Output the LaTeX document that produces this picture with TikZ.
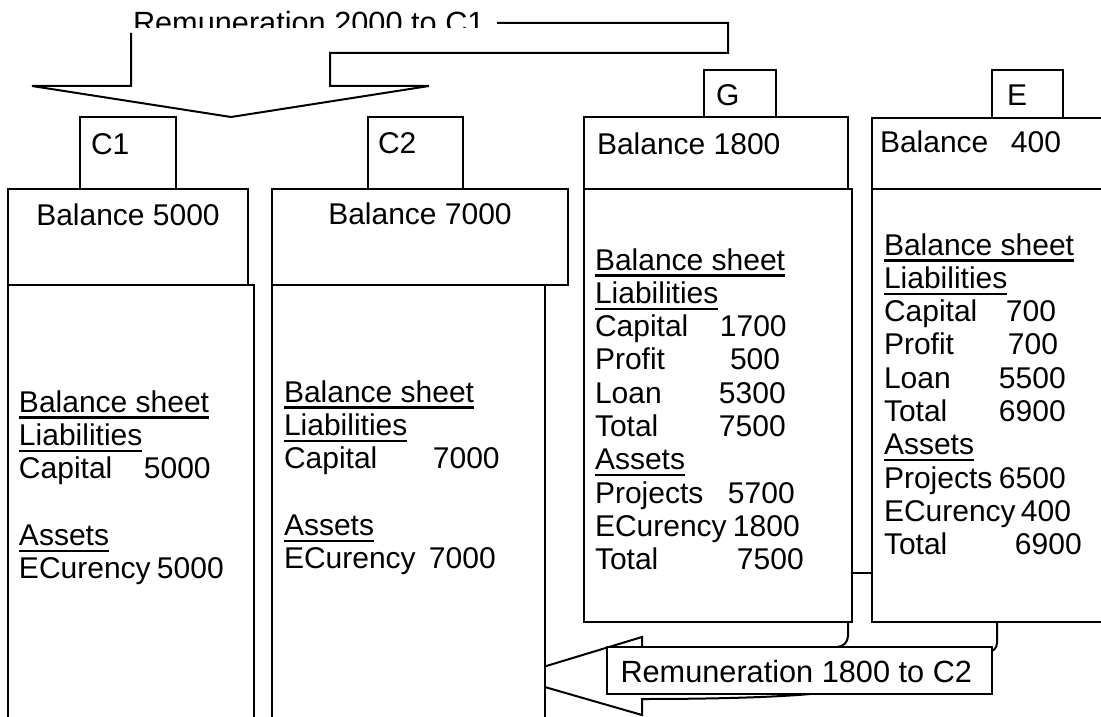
\documentclass[tikz,border=0pt]{standalone}
\usepackage{fontspec}
\setmainfont{Liberation Sans}
\newsavebox\ulsave
\newcommand{\ulbox}[1]{\sbox\ulsave{#1}\rlap{\rule[-6.5pt]{\wd\ulsave}{2.2pt}}\usebox\ulsave}
\newcommand{\numat}[3]{\makebox[#1][l]{#2}#3}
\begin{document}
\begin{tikzpicture}[x=1pt,y=-1pt,line width=2pt,
  box/.style={draw,fill=white,rectangle,inner sep=0pt,outer sep=0pt,anchor=north west},
  txt/.style={anchor=base west,inner sep=0pt,outer sep=0pt,font=\fontsize{30}{33.3}\selectfont},
  remtxt/.style={txt,font=\fontsize{30.7}{33.3}\selectfont},
  link/.style={draw,line width=2pt}]
\useasboundingbox (0,0) rectangle (1101,717);

% top bent arrow "Remuneration 2000 to C1"
\begin{scope}
\clip (0,0) rectangle (1101,28);
\node[remtxt] (toptext) at (133,34) {Remuneration 2000 to C1};
\end{scope}
\draw[link] (131,33) -- (131,86) -- (32,86) -- (231,117) -- (429,86) -- (330,86)
  -- (330,53) -- (728,53) -- (728,23) -- (497,23);

% bottom left arrow (drawn first, partly hidden)
\draw[link] (642,647) -- (642,637) -- (510,677) -- (642,715) -- (642,699)
  .. controls (720,699) and (790,697) .. (830,692);

% C1
\node[box,minimum width=96pt,minimum height=72pt] (c1tab) at (80,117) {};
\node[box,minimum width=246pt,minimum height=450pt] (c1body) at (8,285) {};
\node[box,minimum width=240pt,minimum height=96pt] (c1head) at (8,189) {};
% C2
\node[box,minimum width=95pt,minimum height=72pt] (c2tab) at (368,117) {};
\node[box,minimum width=273pt,minimum height=450pt] (c2body) at (272,285) {};
\node[box,minimum width=296pt,minimum height=96pt] (c2head) at (272,189) {};
% G
\node[box,minimum width=72pt,minimum height=47pt] (gtab) at (704,70) {};
\node[box,minimum width=268pt,minimum height=433pt] (gbody) at (584,189) {};
\node[box,minimum width=264pt,minimum height=72pt] (ghead) at (584,117) {};
% E
\node[box,minimum width=71pt,minimum height=48pt] (etab) at (992,70) {};
\node[box,minimum width=250pt,minimum height=433pt] (ebody) at (872,189) {};
\node[box,minimum width=250pt,minimum height=71pt] (ehead) at (872,118) {};

% link between G and E
\coordinate (lnk) at (862,573);
\draw[link] (gbody.east |- lnk) -- (ebody.west |- lnk);

% connectors into the remuneration box
\coordinate (gc) at (848,647);
\coordinate (ec) at (997,652);
\draw[link,rounded corners=11pt] (gbody.south -| gc) -- (gc) -- ++(-30,0);
\draw[link,rounded corners=9pt] (ebody.south -| ec) -- (ec) -- ++(-20,0);

\node[box,minimum width=385pt,minimum height=47pt] (rembox) at (607,647) {};
\node[remtxt] (remtext) at (620.5,682) {Remuneration 1800 to C2};

% labels
\node[txt] (c1lab) at (91,154) {C1};
\node[txt] (c2lab) at (378,153) {C2};
\node[txt] (glab) at (716,106) {G};
\node[txt] (elab) at (1007,106) {E};
\node[txt,anchor=base] (c1bal) at (128,225) {Balance 5000};
\node[txt,anchor=base] (c2bal) at (420,224) {Balance 7000};
\node[txt] (gbal) at (597,154) {Balance 1800};
\node[txt] (ebal) at (880,152) {\numat{131pt}{Balance}{400}};

% balance sheets
\node[txt] (c1text) at (19,412) {\begin{tabular}[t]{@{}l@{}}
\ulbox{Balance sheet}\\
\ulbox{Liabilities}\\
\numat{125pt}{Capital}{5000}\\
\\
\ulbox{Assets}\\
\numat{138pt}{ECurency}{5000}
\end{tabular}};

\node[txt] (c2text) at (284,402) {\begin{tabular}[t]{@{}l@{}}
\ulbox{Balance sheet}\\
\ulbox{Liabilities}\\
\numat{149pt}{Capital}{7000}\\
\\
\ulbox{Assets}\\
\numat{145pt}{ECurency}{7000}
\end{tabular}};

\node[txt] (gtext) at (595,270) {\begin{tabular}[t]{@{}l@{}}
\ulbox{Balance sheet}\\
\ulbox{Liabilities}\\
\numat{125pt}{Capital}{1700}\\
\numat{135pt}{Profit}{500}\\
\numat{124pt}{Loan}{5300}\\
\numat{124pt}{Total}{7500}\\
\ulbox{Assets}\\
\numat{133pt}{Projects}{5700}\\
\numat{138pt}{ECurency}{1800}\\
\numat{142pt}{Total}{7500}
\end{tabular}};

\node[txt] (etext) at (884,255) {\begin{tabular}[t]{@{}l@{}}
\ulbox{Balance sheet}\\
\ulbox{Liabilities}\\
\numat{122pt}{Capital}{700}\\
\numat{124pt}{Profit}{700}\\
\numat{115pt}{Loan}{5500}\\
\numat{115pt}{Total}{6900}\\
\ulbox{Assets}\\
\numat{115pt}{Projects}{6500}\\
\numat{137pt}{ECurency}{400}\\
\numat{131pt}{Total}{6900}
\end{tabular}};
\end{tikzpicture}
\end{document}
